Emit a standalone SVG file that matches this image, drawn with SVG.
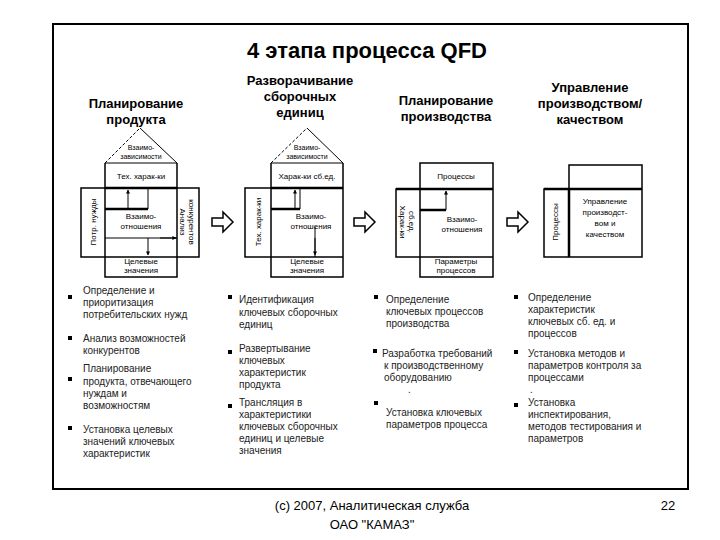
<svg xmlns="http://www.w3.org/2000/svg" width="720" height="540" viewBox="0 0 720 540">
<style>
text{font-family:"Liberation Sans",Arial,sans-serif;fill:#000}
.t{font-size:22px;font-weight:bold;text-anchor:middle}
.h{font-size:13px;font-weight:bold;text-anchor:middle}
.s{font-size:8px;text-anchor:middle}
.r{font-size:7px;text-anchor:middle}
.b{font-size:10px;fill:#222}
.f{font-size:13px;text-anchor:middle}
.ln{fill:none;stroke:#000;stroke-width:1}
.bx{fill:none;stroke:#000;stroke-width:1.5}
.th{stroke:#000;stroke-width:2.5}
.rf{fill:none;stroke:#000;stroke-width:1;stroke-dasharray:3,2}
.blk{fill:#fff;stroke:#000;stroke-width:1.5}
.bul{fill:#000}
</style>
<defs>
<marker id="ah" viewBox="0 0 10 10" refX="9" refY="5" markerWidth="4" markerHeight="5" orient="auto-start-reverse"><path d="M0,0L10,5L0,10z" fill="#000"/></marker>
<path id="barr" d="M0,6h11v-6l10,10l-10,10v-6h-11z"/>
</defs>
<rect x="53" y="24" width="635" height="465" fill="none" stroke="#000" stroke-width="2"/>
<text class="t" x="367" y="58">4 этапа процесса QFD</text>
<g id="headers">
<text class="h" x="136" y="108">Планирование</text><text class="h" x="136" y="124">продукта</text>
<text class="h" x="300" y="85">Разворачивание</text><text class="h" x="300" y="101">сборочных</text><text class="h" x="300" y="117">единиц</text>
<text class="h" x="446" y="105">Планирование</text><text class="h" x="446" y="121">производства</text>
<text class="h" x="590" y="92">Управление</text><text class="h" x="590" y="108">производством/</text><text class="h" x="590" y="124">качеством</text>
</g>
<g id="house1">
<path class="rf" d="M105,163L140,128"/><path class="ln" d="M140,128L177,163"/>
<path class="ln" d="M105,163H177"/>
<path class="bx" d="M105,163V277H177V163M81,188H199V257H81z M105,257H177"/>
<path class="th" d="M105,188H177M105,209H148"/>
<path class="ln" d="M148,188V209M105,238H177"/>
<path class="ln" d="M128,209V190" marker-end="url(#ah)" stroke-width="2"/>
<path class="ln" d="M148,238V255" marker-end="url(#ah)" stroke-width="2"/>
<path class="ln" d="M160,238H176" marker-end="url(#ah)" stroke-width="2"/>
<text class="r" x="141" y="150">Взаимо-</text><text class="r" x="141" y="159">зависимости</text>
<text class="s" x="141" y="179">Тех. харак-ки</text>
<text class="s" x="141" y="219">Взаимо-</text><text class="s" x="141" y="229">отношения</text>
<text class="s" x="141" y="264">Целевые</text><text class="s" x="141" y="273">значения</text>
<text class="s" transform="translate(96,222) rotate(-90)">Потр. нужды</text>
<text class="s" transform="translate(180,222) rotate(90)">Анализ</text>
<text class="s" transform="translate(189,222) rotate(90)">конкурентов</text>
</g>
<g id="house2">
<path class="rf" d="M271,163L307,128"/><path class="ln" d="M307,128L343,163"/>
<path class="ln" d="M271,163H343"/>
<path class="bx" d="M271,163V277H343V163M245,188H343V257H245z M271,257H343"/>
<path class="th" d="M271,188H343M271,209H300"/>
<path class="ln" d="M300,188V209M315,227V257"/>
<path class="ln" d="M295,209V190" marker-end="url(#ah)" stroke-width="2"/>
<path class="ln" d="M315,238V255" marker-end="url(#ah)" stroke-width="2"/>
<text class="r" x="307" y="150">Взаимо-</text><text class="r" x="307" y="159">зависимости</text>
<text class="s" x="307" y="179">Харак-ки сб.ед.</text>
<text class="s" x="311" y="219">Взаимо-</text><text class="s" x="311" y="229">отношения</text>
<text class="s" x="307" y="264">Целевые</text><text class="s" x="307" y="273">значения</text>
<text class="s" transform="translate(261,222) rotate(-90)">Тех. харак-ки</text>
</g>
<g id="house3">
<path class="bx" d="M420,163H493V277H420z M396,189H493V257H396z"/>
<path class="th" d="M396,189H493M420,210H446"/>
<path class="ln" d="M446,210V191" marker-end="url(#ah)" stroke-width="2"/>
<text class="s" x="456" y="179">Процессы</text>
<text class="s" x="462" y="222">Взаимо-</text><text class="s" x="462" y="232">отношения</text>
<text class="s" x="456" y="264">Параметры</text><text class="s" x="456" y="273">процессов</text>
<text class="s" transform="translate(400,222) rotate(90)">Харак-ки</text>
<text class="s" transform="translate(409,222) rotate(90)">сб.ед.</text>
</g>
<g id="house4">
<path class="bx" d="M569,165H642V257H569z M544,189H642V257H544z"/>
<path class="th" d="M544,189H642M569,189V257"/>
<text class="s" transform="translate(558,222) rotate(-90)">Процессы</text>
<text class="s" x="605" y="204">Управление</text><text class="s" x="605" y="215">производст-</text><text class="s" x="605" y="226">вом и</text><text class="s" x="605" y="237">качеством</text>
</g>
<g id="connectors">
<use href="#barr" class="blk" transform="translate(212,212)"/>
<use href="#barr" class="blk" transform="translate(354,212)"/>
<use href="#barr" class="blk" transform="translate(507,212)"/>
</g>
<g id="col1">
<rect class="bul" x="68" y="295" width="4" height="4"/><rect class="bul" x="68" y="336" width="4" height="4"/><rect class="bul" x="68" y="377" width="4" height="4"/><rect class="bul" x="68" y="426" width="4" height="4"/>
<text class="b" x="83" y="294">Определение и</text><text class="b" x="83" y="306">приоритизация</text><text class="b" x="83" y="318">потребительских нужд</text>
<text class="b" x="83" y="342">Анализ возможностей</text><text class="b" x="83" y="354">конкурентов</text>
<text class="b" x="83" y="372">Планирование</text><text class="b" x="83" y="385">продукта, отвечающего</text><text class="b" x="83" y="397">нуждам и</text><text class="b" x="83" y="409">возможностям</text>
<text class="b" x="83" y="433">Установка целевых</text><text class="b" x="83" y="445">значений ключевых</text><text class="b" x="83" y="457">характеристик</text>
</g>
<g id="col2">
<rect class="bul" x="228" y="295" width="4" height="4"/><rect class="bul" x="228" y="350" width="4" height="4"/><rect class="bul" x="228" y="404" width="4" height="4"/>
<text class="b" x="239" y="303">Идентификация</text><text class="b" x="239" y="316">ключевых сборочных</text><text class="b" x="239" y="328">единиц</text>
<text class="b" x="239" y="352">Развертывание</text><text class="b" x="239" y="364">ключевых</text><text class="b" x="239" y="376">характеристик</text><text class="b" x="239" y="388">продукта</text>
<text class="b" x="239" y="406">Трансляция в</text><text class="b" x="239" y="418">характеристики</text><text class="b" x="239" y="430">ключевых сборочных</text><text class="b" x="239" y="442">единиц и целевые</text><text class="b" x="239" y="454">значения</text>
</g>
<g id="col3">
<rect class="bul" x="374" y="295" width="4" height="4"/><rect class="bul" x="373" y="349" width="4" height="4"/><rect class="bul" x="374" y="401" width="4" height="4"/>
<text class="b" x="386" y="303">Определение</text><text class="b" x="386" y="315">ключевых процессов</text><text class="b" x="386" y="327">производства</text>
<text class="b" x="382" y="357">Разработка требований</text><text class="b" x="384" y="369">к производственному</text><text class="b" x="384" y="381">оборудованию</text>
<text class="b" x="408" y="393">.</text>
<text class="b" x="386" y="416">Установка ключевых</text><text class="b" x="386" y="428">параметров процесса</text>
</g>
<g id="col4">
<rect class="bul" x="514" y="295" width="4" height="4"/><rect class="bul" x="514" y="350" width="4" height="4"/><rect class="bul" x="514" y="403" width="4" height="4"/>
<text class="b" x="528" y="301">Определение</text><text class="b" x="528" y="313">характеристик</text><text class="b" x="528" y="325">ключевых сб. ед. и</text><text class="b" x="528" y="337">процессов</text>
<text class="b" x="528" y="357">Установка методов и</text><text class="b" x="528" y="369">параметров контроля за</text><text class="b" x="528" y="381">процессами</text>
<text class="b" x="530" y="393">.</text>
<text class="b" x="528" y="406">Установка</text><text class="b" x="528" y="418">инспектирования,</text><text class="b" x="528" y="430">методов тестирования и</text><text class="b" x="528" y="442">параметров</text>
</g>
<g id="footer">
<text class="f" x="372" y="510">(c) 2007, Аналитическая служба</text>
<text class="f" x="372" y="529">ОАО "КАМАЗ"</text>
<text class="f" x="668" y="510">22</text>
</g>
</svg>
